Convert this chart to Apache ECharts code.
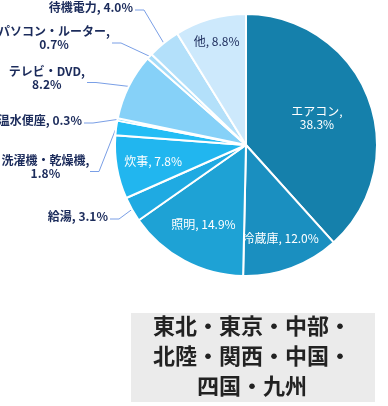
<!DOCTYPE html>
<html><head><meta charset="utf-8">
<script src="https://cdn.jsdelivr.net/npm/echarts@6/dist/echarts.min.js"></script>
<style>html,body{margin:0;padding:0;background:#fff}#c{width:388px;height:406px}</style>
</head><body><div id="c"></div>
<script>
const names = ['エアコン','冷蔵庫','照明','給湯','炊事','洗濯機・乾燥機','温水便座','テレビ・DVD','パソコン・ルーター','待機電力','他'];
const values = [38.3, 12.0, 14.9, 3.1, 7.8, 1.8, 0.3, 8.2, 0.7, 4.0, 8.8];
const colors = ['#1580ab','#1a8fc0','#1ea2d5','#1faae2','#21b6ef','#24bdf5','#2cc3f8','#86d1f8','#a6dcf9','#b3e0fa','#cde9fc'];
const wrapAfterName = [true,false,false,false,false,true,false,true,true,false,false];
const inside = [true,true,true,false,true,false,false,false,false,false,true];
const insideColor = ['#ffffff','#ffffff','#ffffff',null,'#ffffff',null,null,null,null,null,'#1b2b5b'];
const insideRadius = [0.58,0.76,0.69,null,0.72,null,null,null,null,null,0.82];
// outside label anchor: [right edge x, middle y]
const outsideAnchor = [null,null,null,[108,216],null,[88,166.5],[82,120],[85,77.5],[110,38],[133,7],null];
const regionText = '東北・東京・中部・\n北陸・関西・中国・\n四国・九州';

const CX = 246, CY = 145, R = 131;
const FONT = '"Noto Sans CJK JP", "Noto Sans", sans-serif';

const data = names.map((n, i) => {
  const item = { name: n, value: values[i], itemStyle: { color: colors[i] } };
  if (inside[i]) {
    item.label = { position: 'inside', color: insideColor[i], fontWeight: 'normal' };
  }
  return item;
});

const chart = echarts.init(document.getElementById('c'), null, { renderer: 'canvas' });
chart.setOption({
  animation: false,
  backgroundColor: '#ffffff',
  graphic: [
    { type: 'rect', shape: { x: 131, y: 313, width: 244, height: 89 }, style: { fill: '#ebebeb' } },
    { type: 'text', x: 252, y: 356, style: { text: regionText, fill: '#222222', font: 'bold 22px ' + FONT, align: 'center', verticalAlign: 'middle', lineHeight: 30 } }
  ],
  series: [{
    type: 'pie',
    center: [CX, CY],
    radius: [0, R],
    startAngle: 90,
    clockwise: true,
    avoidLabelOverlap: true,
    itemStyle: { borderColor: '#ffffff', borderWidth: 2 },
    label: {
      position: 'outside',
      overflow: 'none',
      fontFamily: FONT,
      fontSize: 12,
      fontWeight: 'bold',
      color: '#1b2b5b',
      formatter: p => {
        const i = p.dataIndex;
        const pct = values[i].toFixed(1) + '%';
        const t = wrapAfterName[i] ? (p.name + ',\n' + pct) : (p.name + ', ' + pct);
        return t.split('\n').map(s => '{a|' + s + '}').join('\n');
      },
      rich: { a: { align: 'center', fontFamily: FONT, fontSize: 12, lineHeight: 13 } }
    },
    labelLine: { show: true, length: 12, length2: 8, lineStyle: { color: '#7a9fe6', width: 1 } },
    labelLayout: p => {
      const i = p.dataIndex;
      if (!inside[i]) {
        const a = outsideAnchor[i];
        if (!a) return {};
        const two = wrapAfterName[i];
        const ey = two ? a[1] + 5 : a[1] + 3;
        const ex = a[0] + 2;
        const p0 = p.labelLinePoints ? p.labelLinePoints[0] : [ex + 20, ey];
        return {
          x: a[0], y: a[1], align: 'right', verticalAlign: 'middle',
          labelLinePoints: [p0, [ex + 9, ey], [ex, ey]]
        };
      }
      const r = p.labelRect;
      const lx = r.x + r.width / 2, ly = r.y + r.height / 2;
      const vx = lx - CX, vy = ly - CY;
      const len = Math.sqrt(vx * vx + vy * vy) || 1;
      const target = insideRadius[i] * R;
      return { dx: vx / len * target - vx, dy: vy / len * target - vy };
    },
    data: data
  }]
});
</script></body></html>
